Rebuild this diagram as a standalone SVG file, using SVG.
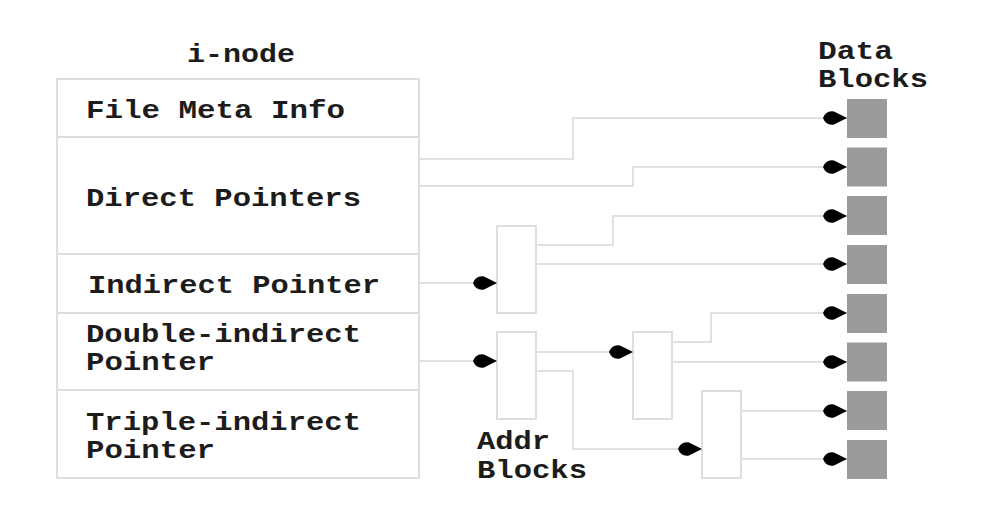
<svg xmlns="http://www.w3.org/2000/svg" width="997" height="528" viewBox="0 0 997 528">
<style>
  .t { font-family: "Liberation Mono", "Courier New", monospace; font-weight: bold; font-size: 25px; fill: #1c1c1c; }
  .box { fill: #ffffff; stroke: #dedede; stroke-width: 2; }
  .div { stroke: #dedede; stroke-width: 2; }
  .data { fill: #9b9b9b; stroke: none; }
  .conn { fill: none; stroke: #e0e0e0; stroke-width: 2; marker-end: url(#arr); }
</style>
<defs>
  <marker id="arr" markerUnits="userSpaceOnUse" markerWidth="30" markerHeight="20" viewBox="-26 -10 30 20" refX="0" refY="0" orient="auto">
    <path d="M0,0 L-13,-6.5 Q-21,-8 -24,0 Q-21,8 -13,6.5 Z" fill="#000"/>
  </marker>
</defs>
<rect width="997" height="528" fill="#ffffff"/>

<g id="inode">
  <text class="t" x="187" y="62" textLength="108" lengthAdjust="spacingAndGlyphs">i-node</text>
  <rect class="box" x="57" y="79" width="362" height="399"/>
  <line class="div" x1="57" y1="137" x2="419" y2="137"/>
  <line class="div" x1="57" y1="254" x2="419" y2="254"/>
  <line class="div" x1="57" y1="313" x2="419" y2="313"/>
  <line class="div" x1="57" y1="390" x2="419" y2="390"/>
  <text class="t" x="86" y="118" textLength="259" lengthAdjust="spacingAndGlyphs">File Meta Info</text>
  <text class="t" x="86" y="206" textLength="275" lengthAdjust="spacingAndGlyphs">Direct Pointers</text>
  <text class="t" x="88" y="293" textLength="292" lengthAdjust="spacingAndGlyphs">Indirect Pointer</text>
  <text class="t" x="86" y="342" textLength="275" lengthAdjust="spacingAndGlyphs">Double-indirect</text>
  <text class="t" x="86" y="370" textLength="129" lengthAdjust="spacingAndGlyphs">Pointer</text>
  <text class="t" x="86" y="430" textLength="275" lengthAdjust="spacingAndGlyphs">Triple-indirect</text>
  <text class="t" x="86" y="458" textLength="129" lengthAdjust="spacingAndGlyphs">Pointer</text>
</g>

<g id="addr-blocks">
  <rect class="box" x="497" y="226" width="39" height="87"/>
  <rect class="box" x="497" y="332" width="39" height="87"/>
  <rect class="box" x="633" y="332" width="39" height="87"/>
  <rect class="box" x="702" y="391" width="39" height="87"/>
  <text class="t" x="477" y="449" textLength="73" lengthAdjust="spacingAndGlyphs">Addr</text>
  <text class="t" x="477" y="478" textLength="110" lengthAdjust="spacingAndGlyphs">Blocks</text>
</g>

<g id="data-blocks">
  <text class="t" x="818" y="59" textLength="75" lengthAdjust="spacingAndGlyphs">Data</text>
  <text class="t" x="818" y="87" textLength="110" lengthAdjust="spacingAndGlyphs">Blocks</text>
  <rect class="data" x="847" y="99" width="40" height="39"/>
  <rect class="data" x="847" y="147.5" width="40" height="39"/>
  <rect class="data" x="847" y="196" width="40" height="39"/>
  <rect class="data" x="847" y="245" width="40" height="39"/>
  <rect class="data" x="847" y="294" width="40" height="39"/>
  <rect class="data" x="847" y="342.5" width="40" height="39"/>
  <rect class="data" x="847" y="391" width="40" height="39"/>
  <rect class="data" x="847" y="440" width="40" height="39"/>
</g>

<g id="connectors">
  <path class="conn" d="M419,159 H573 V118 H847"/>
  <path class="conn" d="M419,186 H633 V167 H847"/>
  <path class="conn" d="M419,283 H497"/>
  <path class="conn" d="M536,245 H613 V216 H847"/>
  <path class="conn" d="M536,264 H847"/>
  <path class="conn" d="M419,361 H497"/>
  <path class="conn" d="M536,352 H633"/>
  <path class="conn" d="M536,371 H573 V449 H702"/>
  <path class="conn" d="M672,342 H711 V313 H847"/>
  <path class="conn" d="M672,362 H847"/>
  <path class="conn" d="M741,411 H847"/>
  <path class="conn" d="M741,459 H847"/>
</g>
</svg>
